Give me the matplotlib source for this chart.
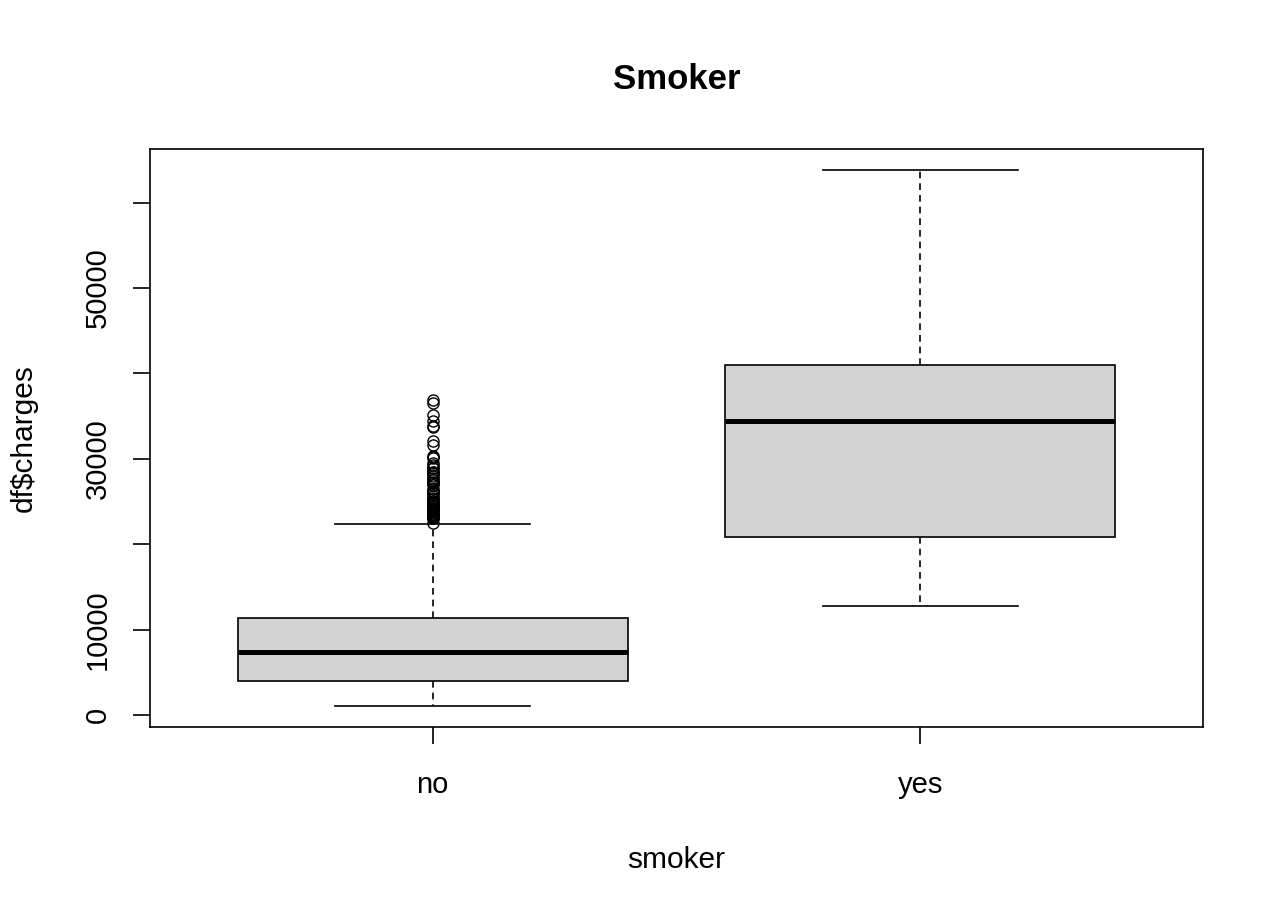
import matplotlib.pyplot as plt

plt.rcParams['font.family'] = ['Liberation Sans', 'DejaVu Sans']

# Box statistics (charges by smoker status)
groups = ['no', 'yes']
whislo = [1121, 12829]
q1 = [3986, 20826]
med = [7345, 34456]
q3 = [11363, 41019]
whishi = [22395, 63770]

# Outliers for the non-smoker group
no_outliers = [36910, 36580, 35160, 34470, 33900, 33750, 32110, 31620, 30280, 30170,
               30060, 29520, 29330, 28950, 28920, 28480, 28470, 28340, 28290, 27940,
               27720, 27530, 27350, 27220, 27120, 26930, 26470, 26240, 26140, 26130,
               26020, 25990, 25680, 25380, 25330, 25080, 24920, 24870, 24670, 24540,
               24520, 24510, 24480, 24230, 24180, 24110, 24060, 23970, 23890, 23810,
               23570, 23560, 23400, 23310, 23290, 23240, 23080, 23070, 23050, 22490]
yes_outliers = []

yticks = [0, 10000, 20000, 30000, 40000, 50000, 60000]
ytick_labels = ['0', '10000', '', '30000', '', '50000', '']

stats = []
for i, g in enumerate(groups):
    stats.append({'label': g, 'whislo': whislo[i], 'q1': q1[i], 'med': med[i],
                  'q3': q3[i], 'whishi': whishi[i],
                  'fliers': no_outliers if g == 'no' else yes_outliers})

fig = plt.figure(figsize=(12.8, 9.14), dpi=100)
ax = fig.add_axes([150 / 1280, 1 - 727 / 914, 1053 / 1280, 578 / 914])

ax.bxp(stats, positions=[1, 2], widths=0.8, patch_artist=True,
       boxprops=dict(facecolor='#d3d3d3', edgecolor='black', linewidth=1.2),
       medianprops=dict(color='black', linewidth=3.6, solid_capstyle='butt'),
       whiskerprops=dict(color='black', linestyle=(0, (4, 3)), linewidth=1.2),
       capprops=dict(color='black', linewidth=1.2),
       flierprops=dict(marker='o', markerfacecolor='none', markeredgecolor='black',
                       markersize=8, markeredgewidth=1.0),
       capwidths=0.4)

lo = min(whislo + no_outliers)
hi = max(whishi + no_outliers)
pad = (hi - lo) * 0.04
ax.set_ylim(lo - pad, hi + pad)
ax.set_xlim(0.42, 2.58)

ax.set_yticks(yticks)
ax.set_yticklabels(ytick_labels, rotation=90, va='center', fontsize=21)
ax.set_xticks([1, 2])
ax.set_xticklabels(groups, fontsize=21)
ax.tick_params(axis='both', direction='out', length=12.5, width=1.2)
ax.tick_params(axis='y', pad=15)
ax.tick_params(axis='x', pad=19)

for s in ax.spines.values():
    s.set_linewidth(1.2)

ax.set_title('Smoker', fontsize=25, fontweight='bold', pad=43)
ax.set_xlabel('smoker', fontsize=21.5, labelpad=34)
ax.set_ylabel(r'df\$charges', fontsize=21.5, labelpad=33)

fig.savefig('out.png', dpi=100)
